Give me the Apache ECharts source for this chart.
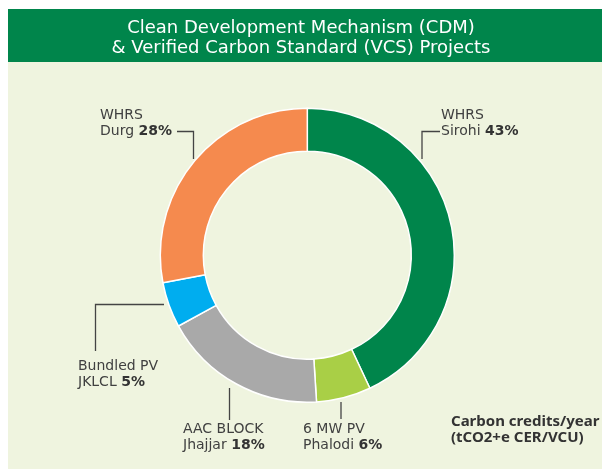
<!DOCTYPE html>
<html>
<head>
<meta charset="utf-8">
<script src="https://cdn.jsdelivr.net/npm/echarts@6/dist/echarts.min.js"></script>
<style>
  html,body{margin:0;padding:0;background:#fff;}
  #chart{width:602px;height:469px;}
</style>
</head>
<body>
<div id="chart"></div>
<script>
// projects, clockwise from 12 o'clock
const projects = ['WHRS Sirohi', '6 MW PV Phalodi', 'AAC BLOCK Jhajjar', 'Bundled PV JKLCL', 'WHRS Durg'];
const labelTop = ['WHRS', '6 MW PV', 'AAC BLOCK', 'Bundled PV', 'WHRS'];
const labelBottom = ['Sirohi', 'Phalodi', 'Jhajjar', 'JKLCL', 'Durg'];
const shares = [43, 6, 18, 5, 28];
const colors = ['#00854b', '#a9cf46', '#a9a9a9', '#00adef', '#f58a4e'];

// label boxes + elbow leader lines (hand placed, like the original)
const spots = [
  {x: 441, y: 107, line: [[422, 159], [422, 131.5], [440, 131.5]]},
  {x: 303, y: 421, line: [[341, 402], [341, 419]]},
  {x: 183, y: 421, line: [[229.5, 388], [229.5, 420]]},
  {x: 78,  y: 358, line: [[164, 304.5], [95.5, 304.5], [95.5, 351]]},
  {x: 100, y: 107, line: [[193.5, 159], [193.5, 131.5], [177, 131.5]]}
];

const chart = echarts.init(document.getElementById('chart'));
chart.setOption({
  backgroundColor: '#fff',
  graphic: [
    {type: 'rect', z: -10, shape: {x: 8, y: 62, width: 594, height: 407}, style: {fill: '#eff4df'}},
    {type: 'rect', z: -10, shape: {x: 8, y: 9, width: 594, height: 53}, style: {fill: '#00854b'}}
  ],
  title: [
    {
      text: 'Clean Development Mechanism (CDM)\n& Verified Carbon Standard (VCS) Projects',
      left: 296, top: 13, textAlign: 'center',
      textStyle: {color: '#fff', fontFamily: 'DejaVu Sans', fontWeight: 'normal', fontSize: 18, lineHeight: 20}
    },
    {
      text: 'Carbon credits/year\n(tCO2+e CER/VCU)',
      left: 446, top: 409,
      textStyle: {color: '#333', fontFamily: 'Noto Sans', fontWeight: 'bold', fontSize: 15, lineHeight: 16}
    }
  ],
  series: [{
    type: 'pie',
    center: [307.3, 255.2],
    radius: [104, 147],
    startAngle: 90,
    clockwise: true,
    avoidLabelOverlap: false,
    silent: true,
    itemStyle: {borderColor: '#fff', borderWidth: 1.5},
    label: {
      show: true,
      position: 'outside',
      formatter: p => '{n|' + labelTop[p.dataIndex] + '}\n{n|' + labelBottom[p.dataIndex] + ' }{b|' + p.value + '%}',
      rich: {
        n: {fontFamily: 'DejaVu Sans', fontSize: 14, lineHeight: 16, color: '#404040'},
        b: {fontFamily: 'DejaVu Sans', fontSize: 14, lineHeight: 16, color: '#333', fontWeight: 'bold'}
      }
    },
    labelLine: {show: true, lineStyle: {color: '#444', width: 1.3}},
    labelLayout: p => {
      const s = spots[p.dataIndex];
      return {x: s.x, y: s.y, align: 'left', verticalAlign: 'top', labelLinePoints: s.line};
    },
    data: projects.map((name, i) => ({name, value: shares[i], itemStyle: {color: colors[i]}}))
  }]
});
</script>
</body>
</html>
